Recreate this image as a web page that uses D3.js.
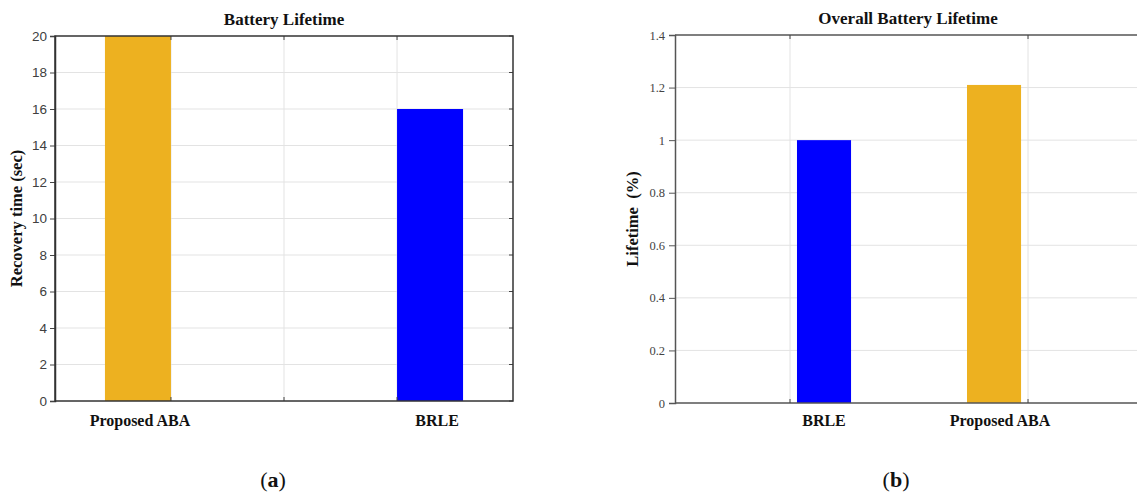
<!DOCTYPE html>
<html>
<head>
<meta charset="utf-8">
<script src="https://cdn.jsdelivr.net/npm/d3@7"></script>
<style>
  body { margin: 0; background: #fff; }
  svg { display: block; }
</style>
</head>
<body>
<div id="svganchor"></div>
<script>
let width = 1137;
let height = 495;

// panel (a)
let leftCategories = ["Proposed ABA", "BRLE"];
let leftPositions = [1, 2];
let leftValues = [20, 16];
let leftColors = ["#EDB120", "#0000FF"];
let leftYTicks = [0, 2, 4, 6, 8, 10, 12, 14, 16, 18, 20];
let leftXGrid = [1.113, 1.5, 1.887];

// panel (b)
let rightCategories = ["BRLE", "Proposed ABA"];
let rightPositions = [1, 2];
let rightValues = [1.0, 1.21];
let rightColors = ["#0000FF", "#EDB120"];
let rightYTicks = [0, 0.2, 0.4, 0.6, 0.8, 1.0, 1.2, 1.4];
let rightXGrid = [0.8, 2.2];

let serif = "'Liberation Serif', 'Times New Roman', serif";
let sans = "'Liberation Sans', Arial, sans-serif";

let svg = d3.select("#svganchor").append("svg")
  .attr("width", width).attr("height", height);

svg.append("rect").attr("width", width).attr("height", height).attr("fill", "#fff");

// ---------- panel (a) ----------
let a = { left: 55, right: 513, top: 36, bottom: 401 };

let xA = d3.scaleLinear().domain([0.716, 2.284]).range([a.left, a.right]);
let yA = d3.scaleLinear().domain([0, 20]).range([a.bottom, a.top]);
let barWA = 0.226;

let gA = svg.append("g");

// horizontal grid
gA.selectAll(".hgrid").data(leftYTicks.slice(1, -1)).enter().append("line")
  .attr("x1", a.left).attr("x2", a.right)
  .attr("y1", d => yA(d)).attr("y2", d => yA(d))
  .attr("stroke", "#e3e3e3").attr("stroke-width", 1);

// vertical grid
gA.selectAll(".vgrid").data(leftXGrid).enter().append("line")
  .attr("x1", d => xA(d)).attr("x2", d => xA(d))
  .attr("y1", a.top).attr("y2", a.bottom)
  .attr("stroke", "#e3e3e3").attr("stroke-width", 1);

// bars
gA.selectAll(".bar").data(leftValues).enter().append("rect")
  .attr("x", (d, i) => xA(leftPositions[i] - barWA / 2))
  .attr("width", (d, i) => xA(leftPositions[i] + barWA / 2) - xA(leftPositions[i] - barWA / 2))
  .attr("y", d => yA(d))
  .attr("height", d => yA(0) - yA(d))
  .attr("fill", (d, i) => leftColors[i]);

// left axis
let axisA = gA.append("g")
  .attr("transform", "translate(" + a.left + ",0)")
  .call(d3.axisLeft(yA).tickValues(leftYTicks).tickSize(5).tickPadding(3).tickFormat(d3.format("d")));
axisA.select(".domain").attr("stroke", "#333").attr("stroke-width", 1.5);
axisA.selectAll(".tick line").attr("stroke", "#444");
axisA.selectAll("text").attr("font-family", sans).attr("font-size", 13.5).attr("fill", "#404040");

// right side ticks (inward)
gA.selectAll(".rtick").data(leftYTicks).enter().append("line")
  .attr("x1", a.right - 4).attr("x2", a.right)
  .attr("y1", d => yA(d)).attr("y2", d => yA(d))
  .attr("stroke", "#444");

// top / bottom ticks (inward)
leftXGrid.forEach(function (v) {
  gA.append("line").attr("x1", xA(v)).attr("x2", xA(v))
    .attr("y1", a.top).attr("y2", a.top + 4).attr("stroke", "#444");
  gA.append("line").attr("x1", xA(v)).attr("x2", xA(v))
    .attr("y1", a.bottom - 4).attr("y2", a.bottom).attr("stroke", "#444");
});

// frame
gA.append("rect")
  .attr("x", a.left).attr("y", a.top)
  .attr("width", a.right - a.left).attr("height", a.bottom - a.top)
  .attr("fill", "none").attr("stroke", "#333").attr("stroke-width", 1.5);

// category labels
gA.selectAll(".cat").data(leftCategories).enter().append("text")
  .attr("x", (d, i) => xA(leftPositions[i]) + (i === 0 ? 2 : 7))
  .attr("y", 426)
  .attr("text-anchor", "middle")
  .attr("font-family", serif).attr("font-weight", "bold").attr("font-size", 16)
  .attr("fill", "#111")
  .text(d => d);

gA.append("text")
  .attr("x", (a.left + a.right) / 2).attr("y", 25)
  .attr("text-anchor", "middle")
  .attr("font-family", serif).attr("font-weight", "bold").attr("font-size", 17)
  .attr("fill", "#111")
  .text("Battery Lifetime");

gA.append("text")
  .attr("transform", "translate(22," + ((a.top + a.bottom) / 2) + ") rotate(-90)")
  .attr("text-anchor", "middle")
  .attr("font-family", serif).attr("font-weight", "bold").attr("font-size", 16.5)
  .attr("fill", "#111")
  .text("Recovery time (sec)");

let capA = gA.append("text")
  .attr("x", 273).attr("y", 487)
  .attr("text-anchor", "middle")
  .attr("font-family", serif).attr("font-size", 22).attr("fill", "#111");
capA.append("tspan").text("(");
capA.append("tspan").attr("font-weight", "bold").text("a");
capA.append("tspan").text(")");

// ---------- panel (b) ----------
let b = { left: 675, right: 1137, top: 35, bottom: 403 };

let xB = d3.scaleLinear().domain([0.1235, 2.841]).range([b.left, b.right]);
let yB = d3.scaleLinear().domain([0, 1.4]).range([b.bottom, b.top]);
let barWB = 0.318;

let gB = svg.append("g");

gB.selectAll(".hgrid").data(rightYTicks.slice(1, -1)).enter().append("line")
  .attr("x1", b.left).attr("x2", b.right)
  .attr("y1", d => yB(d)).attr("y2", d => yB(d))
  .attr("stroke", "#e3e3e3").attr("stroke-width", 1);

gB.selectAll(".vgrid").data(rightXGrid).enter().append("line")
  .attr("x1", d => xB(d)).attr("x2", d => xB(d))
  .attr("y1", b.top).attr("y2", b.bottom)
  .attr("stroke", "#e3e3e3").attr("stroke-width", 1);

gB.selectAll(".bar").data(rightValues).enter().append("rect")
  .attr("x", (d, i) => xB(rightPositions[i] - barWB / 2))
  .attr("width", (d, i) => xB(rightPositions[i] + barWB / 2) - xB(rightPositions[i] - barWB / 2))
  .attr("y", d => yB(d))
  .attr("height", d => yB(0) - yB(d))
  .attr("fill", (d, i) => rightColors[i]);

let axisB = gB.append("g")
  .attr("transform", "translate(" + b.left + ",0)")
  .call(d3.axisLeft(yB).tickValues(rightYTicks).tickSize(6).tickPadding(4)
    .tickFormat(d => d === 0 ? "0" : d === 1 ? "1" : d3.format(".1f")(d)));
axisB.select(".domain").attr("stroke", "#555").attr("stroke-width", 1.5);
axisB.selectAll(".tick line").attr("stroke", "#555");
axisB.selectAll("text").attr("font-family", serif).attr("font-size", 12.5).attr("fill", "#444");

// top and bottom axis lines (open on the right)
gB.append("line").attr("x1", b.left).attr("x2", b.right)
  .attr("y1", b.top).attr("y2", b.top).attr("stroke", "#555").attr("stroke-width", 1.5);
gB.append("line").attr("x1", b.left).attr("x2", b.right)
  .attr("y1", b.bottom).attr("y2", b.bottom).attr("stroke", "#555").attr("stroke-width", 1.5);

rightXGrid.forEach(function (v) {
  gB.append("line").attr("x1", xB(v)).attr("x2", xB(v))
    .attr("y1", b.top).attr("y2", b.top + 4).attr("stroke", "#444");
  gB.append("line").attr("x1", xB(v)).attr("x2", xB(v))
    .attr("y1", b.bottom - 4).attr("y2", b.bottom).attr("stroke", "#444");
});

gB.selectAll(".cat").data(rightCategories).enter().append("text")
  .attr("x", (d, i) => xB(rightPositions[i]) + (i === 0 ? 0 : 6))
  .attr("y", 426)
  .attr("text-anchor", "middle")
  .attr("font-family", serif).attr("font-weight", "bold").attr("font-size", 16)
  .attr("fill", "#111")
  .text(d => d);

gB.append("text")
  .attr("x", 908).attr("y", 24)
  .attr("text-anchor", "middle")
  .attr("font-family", serif).attr("font-weight", "bold").attr("font-size", 17)
  .attr("fill", "#111")
  .text("Overall Battery Lifetime");

gB.append("text")
  .attr("transform", "translate(638,219) rotate(-90)")
  .attr("text-anchor", "middle")
  .attr("font-family", serif).attr("font-weight", "bold").attr("font-size", 16.5)
  .attr("fill", "#111")
  .attr("xml:space", "preserve")
  .style("white-space", "pre")
  .text("Lifetime  (%)");

let capB = gB.append("text")
  .attr("x", 896).attr("y", 487)
  .attr("text-anchor", "middle")
  .attr("font-family", serif).attr("font-size", 22).attr("fill", "#111");
capB.append("tspan").text("(");
capB.append("tspan").attr("font-weight", "bold").text("b");
capB.append("tspan").text(")");
</script>
</body>
</html>
